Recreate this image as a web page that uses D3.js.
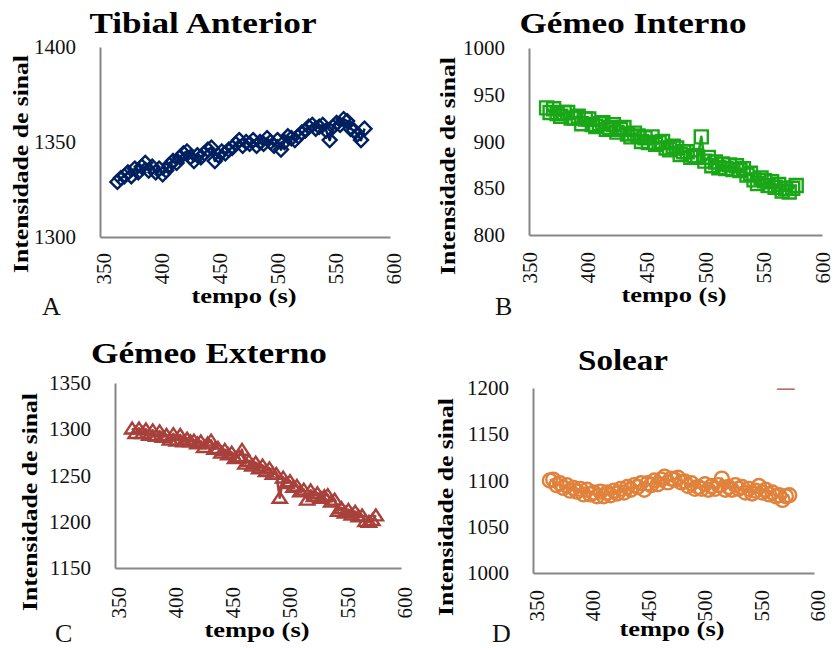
<!DOCTYPE html>
<html><head><meta charset="utf-8">
<script src="https://cdn.jsdelivr.net/npm/d3@7/dist/d3.min.js"></script>
<style>body{margin:0;background:#fff}svg{display:block}</style>
</head><body>
<svg id="chart" width="835" height="648"></svg>
<script>
// Sampling times (s)
const tempo = [365,368,371,374,377,380,383,386,389,392,395,398,401,404,407,410,413,416,419,422,
  425,428,431,434,437,440,443,446,449,452,455,458,461,464,467,470,473,476,479,482,
  485,488,491,494,497,500,503,506,509,512,515,518,521,524,527,530,533,536,539,542,
  545,548,551,554,557,560,563,566,569,572,575,578];

// Signal intensity per muscle
const tibialAnterior = [1329,1331,1332,1334,1332,1336,1334,1337,1339,1335,
  1337,1334,1336,1333,1335,1338,1340,1339,1342,1344,
  1345,1342,1340,1343,1342,1344,1346,1347,1340,1343,
  1345,1344,1346,1347,1349,1351,1348,1350,1349,1351,
  1348,1350,1349,1352,1350,1348,1351,1346,1350,1353,
  1352,1351,1353,1355,1356,1358,1359,1357,1358,1359,
  1356,1351,1358,1360,1359,1362,1361,1357,1356,1354,
  1351,1357];
const gemeoInterno = [936,931,935,930,927,931,931,925,925,927,
  919,924,924,918,916,919,920,913,915,918,
  910,913,915,908,905,909,906,900,904,899,
  905,897,899,900,893,891,895,893,886,889,
  889,883,885,883,905,879,883,874,878,872,
  876,871,875,870,874,869,871,864,866,859,
  855,861,858,853,857,851,854,847,850,846,
  850,853];
const gemeoExterno = [1301,1296,1301,1296,1300,1294,1299,1293,1298,1292,
  1294,1289,1295,1288,1294,1287,1290,1287,1288,1285,
  1287,1281,1285,1288,1279,1280,1275,1278,1273,1275,
  1269,1271,1278,1263,1266,1261,1264,1258,1261,1255,
  1258,1252,1252,1226,1248,1242,1244,1238,1239,1233,
  1235,1224,1234,1228,1231,1226,1228,1229,1222,1224,
  1212,1215,1210,1213,1208,1211,1206,1207,1201,1200,
  1202,1207];
const solear = [1100,1101,1095,1097,1092,1095,1089,1092,1088,1091,
  1085,1090,1085,1087,1083,1088,1083,1087,1084,1089,
  1086,1091,1087,1093,1090,1095,1093,1097,1090,1097,
  1095,1100,1096,1101,1104,1098,1102,1101,1103,1098,
  1099,1094,1097,1091,1093,1091,1096,1090,1094,1091,
  1095,1102,1090,1093,1090,1095,1091,1093,1087,1091,
  1086,1089,1094,1087,1090,1085,1087,1083,1084,1079,
  1083,1084];
// stray point just above the Solear plot area (mostly clipped)
const solearStrayT = [575];
const solearStrayV = [1205];

// Axis ticks
const xTicks = [350,400,450,500,550,600];
const yTicksTA = [1300,1350,1400];
const yTicksGI = [800,850,900,950,1000];
const yTicksGE = [1150,1200,1250,1300,1350];
const yTicksSO = [1000,1050,1100,1150,1200];

const titles = ["Tibial Anterior","Gémeo Interno","Gémeo Externo","Solear"];
const letters = ["A","B","C","D"];
const xLabel = "tempo (s)";
const yLabel = "Intensidade de sinal";

const serif = "'Liberation Serif', 'Times New Roman', serif";
const svg = d3.select("#chart");

const diamond = s => `M0,${-s}L${s},0L0,${s}L${-s},0Z`;
const square = s => `M${-s},${-s}H${s}V${s}H${-s}Z`;
const triangle = s => `M0,${-s*0.85}L${s*1.05},${s*0.75}H${-s*1.05}Z`;
const circle = s => d3.arc()({innerRadius:0, outerRadius:s, startAngle:0, endAngle:2*Math.PI});

const panels = [
  {values: tibialAnterior, yTicks: yTicksTA, color: "#002060", marker: diamond, ms: 7,
   x0: 100, x1: 390, y0: 47, y1: 237, labX: 3, labY: 16,
   title: {x: 203, y: 33, w: 227}, yl: {x: 28, y: 164}, xl: {x: 244, y: 303}, let: {x: 42, y: 315}},
  {values: gemeoInterno, yTicks: yTicksGI, color: "#19a617", marker: square, ms: 6.5,
   x0: 529, x1: 822, y0: 48, y1: 235, labX: 0, labY: 17,
   title: {x: 633, y: 33, w: 227}, yl: {x: 455, y: 166}, xl: {x: 674, y: 302}, let: {x: 495, y: 315}},
  {values: gemeoExterno, yTicks: yTicksGE, color: "#a8413b", marker: triangle, ms: 6.8,
   x0: 115, x1: 401, y0: 383, y1: 568, labX: 3, labY: 19,
   title: {x: 209, y: 363, w: 236}, yl: {x: 37, y: 502}, xl: {x: 257, y: 637}, let: {x: 55, y: 642}},
  {values: solear, yTicks: yTicksSO, color: "#e0823b", marker: circle, ms: 7,
   x0: 533, x1: 814, y0: 388, y1: 573, labX: 3, labY: 17,
   title: {x: 623, y: 370, w: 90}, yl: {x: 453, y: 507}, xl: {x: 672, y: 636}, let: {x: 492, y: 642}}
];

panels.forEach((p, i) => {
  const x = d3.scaleLinear().domain([350, 600]).range([p.x0, p.x1]);
  const y = d3.scaleLinear().domain(d3.extent(p.yTicks)).range([p.y1, p.y0]);
  const g = svg.append("g");

  // y axis
  const ya = g.append("g").attr("transform", `translate(${p.x0},0)`)
    .call(d3.axisLeft(y).tickValues(p.yTicks).tickSize(0).tickPadding(24).tickFormat(d3.format("d")));
  ya.select(".domain").attr("stroke", "#878787").attr("stroke-width", 2);
  ya.selectAll("text").attr("font-family", serif).attr("font-size", 21).attr("fill", "#111");

  // x axis with vertical labels
  const xa = g.append("g").attr("transform", `translate(0,${p.y1})`)
    .call(d3.axisBottom(x).tickValues(xTicks).tickSize(0).tickFormat(d3.format("d")));
  xa.select(".domain").attr("stroke", "#878787").attr("stroke-width", 2);
  xa.selectAll("text")
    .attr("font-family", serif).attr("font-size", 21).attr("fill", "#111")
    .attr("x", 0).attr("y", 0).attr("dy", "0.35em")
    .attr("text-anchor", "end")
    .attr("transform", `translate(${p.labX},${p.labY}) rotate(-90)`);

  // clip to the plot area
  const clipId = `clip${i}`;
  svg.append("clipPath").attr("id", clipId).append("rect")
    .attr("x", p.x0 - 20).attr("y", p.y0 + 0.5).attr("width", p.x1 - p.x0 + 40).attr("height", p.y1 - p.y0 + 20);

  const plot = g.append("g").attr("clip-path", `url(#${clipId})`);
  const line = d3.line().x((d, j) => x(tempo[j])).y(d => y(d));
  plot.append("path").datum(p.values)
    .attr("d", line).attr("fill", "none").attr("stroke", p.color).attr("stroke-width", 2.6)
    .attr("stroke-linejoin", "round");
  plot.selectAll("path.mk").data(p.values).join("path").attr("class", "mk")
    .attr("d", p.marker(p.ms))
    .attr("transform", (d, j) => `translate(${x(tempo[j])},${y(d)})`)
    .attr("fill", "none").attr("stroke", p.color).attr("stroke-width", 2.4);

  if (i === 3) {
    plot.selectAll("path.stray").data(solearStrayV).join("path").attr("class", "stray")
      .attr("d", triangle(6.8))
      .attr("transform", (d, j) => `translate(${x(solearStrayT[j])},${y(d)})`)
      .attr("fill", "none").attr("stroke", "#a8413b").attr("stroke-width", 2.4);
  }

  // texts
  g.append("text").attr("x", p.title.x).attr("y", p.title.y)
    .attr("text-anchor", "middle").attr("font-family", serif).attr("font-weight", "bold")
    .attr("font-size", 30).attr("textLength", p.title.w).attr("lengthAdjust", "spacingAndGlyphs")
    .attr("fill", "#000").text(titles[i]);
  g.append("text").attr("transform", `translate(${p.yl.x},${p.yl.y}) rotate(-90)`)
    .attr("text-anchor", "middle").attr("font-family", serif).attr("font-weight", "bold")
    .attr("font-size", 21).attr("textLength", 218).attr("lengthAdjust", "spacingAndGlyphs")
    .attr("fill", "#000").text(yLabel);
  g.append("text").attr("x", p.xl.x).attr("y", p.xl.y)
    .attr("text-anchor", "middle").attr("font-family", serif).attr("font-weight", "bold")
    .attr("font-size", 22).attr("textLength", 105).attr("lengthAdjust", "spacingAndGlyphs")
    .attr("fill", "#000").text(xLabel);
  g.append("text").attr("x", p.let.x).attr("y", p.let.y)
    .attr("font-family", serif).attr("font-size", 26).attr("fill", "#111").text(letters[i]);
});
</script>
</body></html>
